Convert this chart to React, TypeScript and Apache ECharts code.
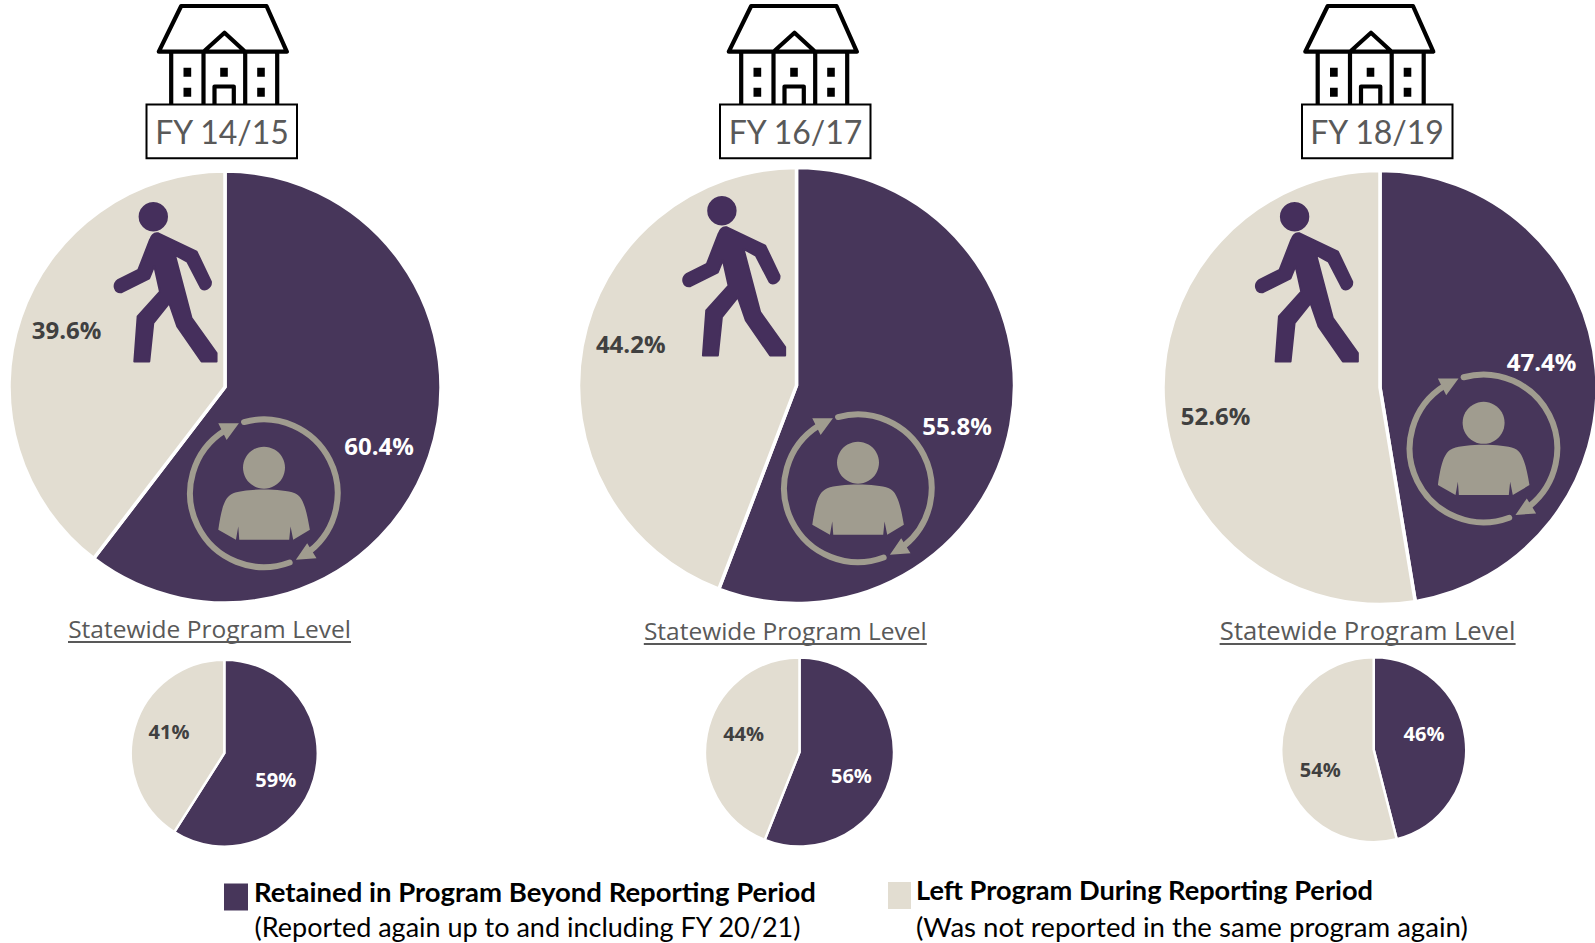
import React, { useEffect, useRef } from "react";
import * as echarts from "echarts";

const RETAINED = "Retained in Program Beyond Reporting Period";
const LEFT = "Left Program During Reporting Period";
const RETAINED_NOTE = "(Reported again up to and including FY 20/21)";
const LEFT_NOTE = "(Was not reported in the same program again)";
const LEVEL_TITLE = "Statewide Program Level";
const fiscalYears = ["FY 14/15", "FY 16/17", "FY 18/19"];
const retainedLarge = [60.4, 55.8, 47.4];
const leftLarge = [39.6, 44.2, 52.6];
const retainedSmall = [59, 56, 46];
const leftSmall = [41, 44, 54];

const PURPLE = "#47365a";
const BEIGE = "#e2ddd1";
const ICON_GREY = "#a09c8f";
const WALKER = "#452f5c";
const LABEL_DARK = "#404040";
const SANS = '"Open Sans", sans-serif';
const CAL = 'Lato, "Open Sans", sans-serif';

const largeLayout = [
  { c: [225, 387], r: 216, retained: [379, 445.5], left: [66.5, 329.6] },
  { c: [796.5, 385.5], r: 218, retained: [957, 425], left: [630.7, 343.8] },
  { c: [1380, 387.5], r: 217, retained: [1541.5, 361.5], left: [1215.6, 415] },
];
const smallLayout = [
  { c: [224.3, 753.2], r: 93.5, retained: [275.7, 779], left: [169, 731] },
  { c: [799.5, 752], r: 94.5, retained: [851.4, 775], left: [743.6, 733] },
  { c: [1373.7, 749.7], r: 92.5, retained: [1424, 733.4], left: [1320.3, 769.5] },
];
const houseX = [224, 794, 1370.5];
const boxX = [146.5, 720, 1302];
const boxTextX = [222, 795.5, 1377];
const titleLayout = [
  { x: 209.5, y: 628, w: 283 },
  { x: 785.3, y: 630, w: 283 },
  { x: 1367.6, y: 630, w: 296 },
];
const walkerOffset = [[0, 0], [568.6, -6], [1141.3, 0]];
const personOffset = [[0, 0], [594, -5], [1219.6, -44.8]];

echarts.graphic.registerShape("houseFrame", echarts.graphic.extendPath(
  "M-42.8,6 L42.5,6 L62.8,51.7 L-65.2,51.7 Z " +
  "M-52.8,51.7 L-52.8,106 M53.2,51.7 L53.2,106 " +
  "M-20.5,106 L-20.5,51.7 L0.5,32.7 L21.2,51.7 L21.2,106 " +
  "M-9.5,106 L-9.5,86.5 L9.8,86.5 L9.8,106", {}));
echarts.graphic.registerShape("houseWindows", echarts.graphic.extendPath(
  "M-40.5,67.7 h7.7 v9 h-7.7 Z M-40.5,87.7 h7.7 v9 h-7.7 Z " +
  "M-3.8,67.7 h7.6 v9 h-7.6 Z " +
  "M33.2,67.7 h7.6 v9 h-7.6 Z M33.2,87.7 h7.6 v9 h-7.6 Z", {}));
echarts.graphic.registerShape("walkerBody", echarts.graphic.extendPath(
  "M175,130 L290,185 L333,275 C335,295 312,305 303,294 L262,215 L225,195 L275,385 L350,490 L350,515 L305,515 L232,410 L208,340 L160,400 L148,515 L103,515 L113,380 L180,305 L163,228 L148,265 L65,307 C45,310 35,285 55,270 L115,240 L150,150 C155,135 165,128 175,130 Z", {}));
echarts.graphic.registerShape("personBody", echarts.graphic.extendPath(
  "M145,390 C155,320 165,290 190,280 C230,265 335,265 375,280 C400,290 410,330 420,390 L370,420 L362,380 L358,420 L208,420 L205,380 L198,420 Z", {}));
echarts.graphic.registerShape("cycleArcs", echarts.graphic.extendPath(
  "M222.3,66.2 A222,222 0 0 1 419.6,454 M359.3,488.1 A222,222 0 0 1 164.8,91.5", {}));
echarts.graphic.registerShape("cycleHeads", echarts.graphic.extendPath(
  "M207,70 L145,70 L170,120 Z M378,480 L440,475 L412,430 Z", {}));

function pie(
  retained: number,
  left: number,
  l: { c: number[]; r: number; retained: number[]; left: number[] },
  fontSize: number,
  borderWidth: number,
) {
  return {
    type: "pie",
    center: l.c,
    radius: [0, l.r],
    startAngle: 90,
    clockwise: true,
    silent: true,
    itemStyle: { borderColor: "#ffffff", borderWidth },
    label: {
      show: true,
      position: "inside",
      formatter: "{c}%",
      fontFamily: SANS,
      fontWeight: "bold",
      fontSize,
    },
    labelLine: { show: false },
    labelLayout: (p: { dataIndex: number }) => {
      const [x, y] = p.dataIndex === 0 ? l.retained : l.left;
      return { x, y, align: "center", verticalAlign: "middle" };
    },
    data: [
      { name: RETAINED, value: retained, itemStyle: { color: PURPLE }, label: { color: "#ffffff" } },
      { name: LEFT, value: left, itemStyle: { color: BEIGE }, label: { color: LABEL_DARK } },
    ],
  };
}

function legendFor(name: string, left: number, top: number, itemWidth: number, fontSize: number, pad: number) {
  return {
    data: [{ name, icon: "rect", itemStyle: { borderWidth: 0 } }],
    left,
    top,
    padding: 0,
    orient: "horizontal",
    itemWidth,
    itemHeight: 27,
    selectedMode: false,
    formatter: (n: string) => `{a|${n}}`,
    textStyle: {
      rich: {
        a: {
          fontFamily: CAL,
          fontWeight: "bold",
          fontSize,
          color: "#000000",
          padding: [0, 0, 12, pad],
        },
      },
    },
  };
}

function icons() {
  const out: any[] = [];
  const Z = 10;
  fiscalYears.forEach((fy, i) => {
    out.push({
      type: "houseFrame", x: houseX[i], y: 0, z: Z, silent: true,
      style: { fill: "#ffffff", stroke: "#000000", lineWidth: 4.2, lineJoin: "round" },
    });
    out.push({ type: "houseWindows", x: houseX[i], y: 0, z: Z, silent: true, style: { fill: "#000000" } });
    out.push({
      type: "rect", z: Z + 1, silent: true,
      shape: { x: boxX[i], y: 104.5, width: 150.5, height: 53.8 },
      style: { fill: "#ffffff", stroke: "#000000", lineWidth: 2 },
    });
    out.push({
      type: "text", z: Z + 2, silent: true, x: boxTextX[i], y: 131,
      style: { text: fy, font: `32px ${CAL}`, fill: "#595959", textAlign: "center", textVerticalAlign: "middle" },
    });

    const [wx, wy] = walkerOffset[i];
    out.push({
      type: "circle", z: Z, silent: true,
      shape: { cx: 153.3 + wx, cy: 216.7 + wy, r: 14.7 },
      style: { fill: WALKER },
    });
    out.push({
      type: "walkerBody", x: 100 + wx, y: 190 + wy, scaleX: 1 / 3, scaleY: 1 / 3, z: Z, silent: true,
      style: { fill: WALKER, stroke: WALKER, lineWidth: 6, lineJoin: "round" },
    });

    const [px, py] = personOffset[i];
    const common = { x: 170 + px, y: 400 + py, scaleX: 1 / 3, scaleY: 1 / 3, z: Z, silent: true };
    out.push({ type: "cycleArcs", ...common, style: { fill: "none", stroke: ICON_GREY, lineWidth: 18, lineCap: "round" } });
    out.push({ type: "cycleHeads", ...common, style: { fill: ICON_GREY } });
    out.push({ type: "personBody", ...common, style: { fill: ICON_GREY } });
    out.push({
      type: "circle", z: Z, silent: true,
      shape: { cx: 170 + px + 282 / 3, cy: 400 + py + 203 / 3, r: 21 },
      style: { fill: ICON_GREY },
    });

    const t = titleLayout[i];
    out.push({
      type: "text", z: Z, silent: true, x: t.x, y: t.y,
      style: { text: LEVEL_TITLE, font: `${(24.5 * t.w) / 283}px ${SANS}`, fill: "#595959", textAlign: "center", textVerticalAlign: "middle" },
    });
    out.push({
      type: "line", z: Z, silent: true,
      shape: { x1: t.x - t.w / 2, y1: t.y + 14, x2: t.x + t.w / 2, y2: t.y + 14 },
      style: { stroke: "#595959", lineWidth: 1.8 },
    });
  });
  out.push({
    type: "text", z: Z, silent: true, x: 254.5, y: 926,
    style: { text: RETAINED_NOTE, font: `27px ${CAL}`, fill: "#000000", textAlign: "left", textVerticalAlign: "middle" },
  });
  out.push({
    type: "text", z: Z, silent: true, x: 916, y: 926,
    style: { text: LEFT_NOTE, font: `27.6px ${CAL}`, fill: "#000000", textAlign: "left", textVerticalAlign: "middle" },
  });
  return out;
}

export default function App() {
  const ref = useRef<HTMLDivElement>(null);
  useEffect(() => {
    const chart = echarts.init(ref.current!, null, { renderer: "svg" });
    chart.setOption({
      animation: false,
      backgroundColor: "#ffffff",
      legend: [legendFor(RETAINED, 224, 877, 24, 27.5, 1), legendFor(LEFT, 888, 876, 23, 27.2, 0)],
      series: [
        ...fiscalYears.map((_, i) => pie(retainedLarge[i], leftLarge[i], largeLayout[i], 24, 3.5)),
        ...fiscalYears.map((_, i) => pie(retainedSmall[i], leftSmall[i], smallLayout[i], 20, 2.5)),
      ],
      graphic: { elements: icons() },
    });
    return () => chart.dispose();
  }, []);
  return <div ref={ref} style={{ position: "fixed", left: 0, top: 0, width: 1595, height: 943 }} />;
}
